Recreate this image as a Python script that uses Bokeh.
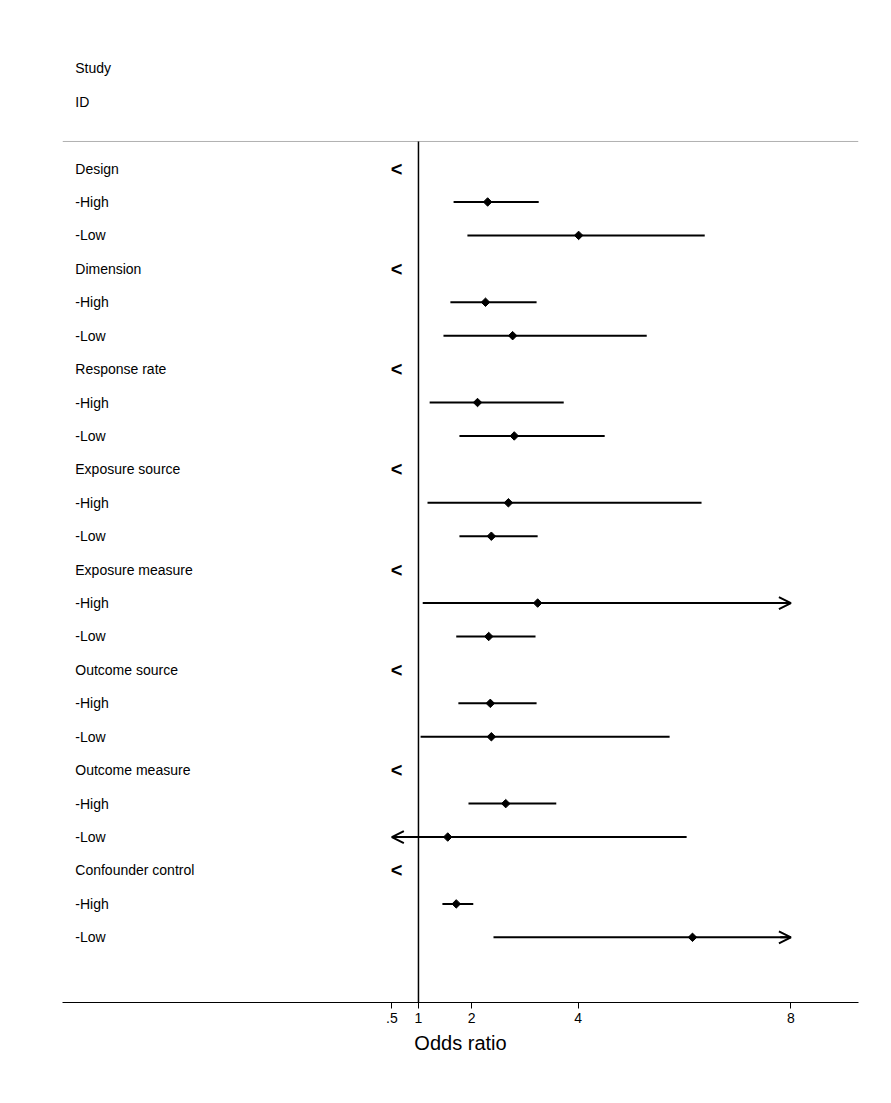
from bokeh.plotting import figure
from bokeh.models import Range1d, FixedTicker, ColumnDataSource, Arrow, OpenHead
from bokeh.core.properties import value
from bokeh.embed import file_html
from bokeh.resources import INLINE

labels = ["Design", "-High", "-Low", "Dimension", "-High", "-Low",
          "Response rate", "-High", "-Low", "Exposure source", "-High", "-Low",
          "Exposure measure", "-High", "-Low", "Outcome source", "-High", "-Low",
          "Outcome measure", "-High", "-Low", "Confounder control", "-High", "-Low"]
# None for group header rows
est = [None, 2.30, 4.01, None, 2.26, 2.77, None, 2.11, 2.80, None, 2.69, 2.37,
       None, 3.24, 2.32, None, 2.35, 2.37, None, 2.64, 1.55, None, 1.71, 6.15]
lo = [None, 1.66, 1.92, None, 1.60, 1.47, None, 1.21, 1.77, None, 1.17, 1.77,
      None, 1.08, 1.71, None, 1.75, 1.04, None, 1.94, 0.30, None, 1.45, 2.41]
hi = [None, 3.26, 6.38, None, 3.22, 5.29, None, 3.73, 4.50, None, 6.32, 3.24,
      None, 9.50, 3.20, None, 3.22, 5.72, None, 3.59, 6.04, None, 2.03, 9.50]
ticks = [0.5, 1, 2, 4, 8]
xmin_disp, xmax_disp = 0.5, 8.0

FONT = "Liberation Sans"
p = figure(width=875, height=1087, output_backend="svg", toolbar_location=None,
           x_range=Range1d(-5.69, 9.27), y_range=Range1d(24.95, -4.13),
           min_border_left=62, min_border_right=17, min_border_top=30, min_border_bottom=85)
p.grid.visible = False
p.outline_line_color = None
p.yaxis.visible = False
p.xaxis.ticker = FixedTicker(ticks=ticks)
p.xaxis.major_label_overrides = {0.5: ".5", 1: "1", 2: "2", 4: "4", 8: "8"}
p.xaxis.minor_tick_line_color = None
p.xaxis.major_tick_out = 6
p.xaxis.major_tick_in = 0
p.xaxis.axis_line_color = "black"
p.xaxis.major_label_text_font = FONT
p.xaxis.major_label_text_font_size = "14px"
p.xaxis.major_label_text_color = "black"
p.xaxis.major_label_standoff = 4
p.xaxis.axis_label = "Odds ratio"
p.xaxis.axis_label_text_font = FONT
p.xaxis.axis_label_text_font_style = "normal"
p.xaxis.axis_label_text_font_size = "20px"
p.xaxis.axis_label_text_color = "black"
p.xaxis.axis_label_standoff = 6

# header
p.text(x=[-5.45, -5.45], y=[-3.0, -2.0], text=["Study", "ID"], text_font=value(FONT),
       text_font_size="14px", text_baseline="middle")
p.segment(x0=[-5.69], y0=[-0.81], x1=[9.27], y1=[-0.81], line_color="#b0b0b0", line_width=1)
p.segment(x0=[1], y0=[-0.81], x1=[1], y1=[24.95], line_color="black", line_width=1.5)

rows = list(range(len(labels)))
p.text(x=[-5.45] * len(rows), y=rows, text=labels, text_font=value(FONT),
       text_font_size="14px", text_baseline="middle")

hdr = [i for i in rows if est[i] is None]
p.text(x=[0.59] * len(hdr), y=hdr, text=["<"] * len(hdr), text_font=value(FONT),
       text_font_size="20px", text_font_style="bold", text_align="center", text_baseline="middle")

sub = [i for i in rows if est[i] is not None]
x0 = [max(lo[i], xmin_disp) for i in sub]
x1 = [min(hi[i], xmax_disp) for i in sub]
p.segment(x0=x0, y0=sub, x1=x1, y1=sub, line_color="black", line_width=2)
p.scatter(x=[est[i] for i in sub], y=sub, marker="square", angle=0.785398, size=6, color="black")

rs = [i for i in sub if hi[i] > xmax_disp]
if rs:
    p.add_layout(Arrow(end=OpenHead(size=12, line_width=2), line_width=2,
                       source=ColumnDataSource(dict(xs=[xmax_disp - 0.2] * len(rs), ys=rs,
                                                    xe=[xmax_disp] * len(rs), ye=rs)),
                       x_start="xs", y_start="ys", x_end="xe", y_end="ye"))
ls = [i for i in sub if lo[i] < xmin_disp]
if ls:
    p.add_layout(Arrow(end=OpenHead(size=12, line_width=2), line_width=2,
                       source=ColumnDataSource(dict(xs=[xmin_disp + 0.2] * len(ls), ys=ls,
                                                    xe=[xmin_disp] * len(ls), ye=ls)),
                       x_start="xs", y_start="ys", x_end="xe", y_end="ye"))

open("out.html", "w").write(file_html(p, INLINE))
